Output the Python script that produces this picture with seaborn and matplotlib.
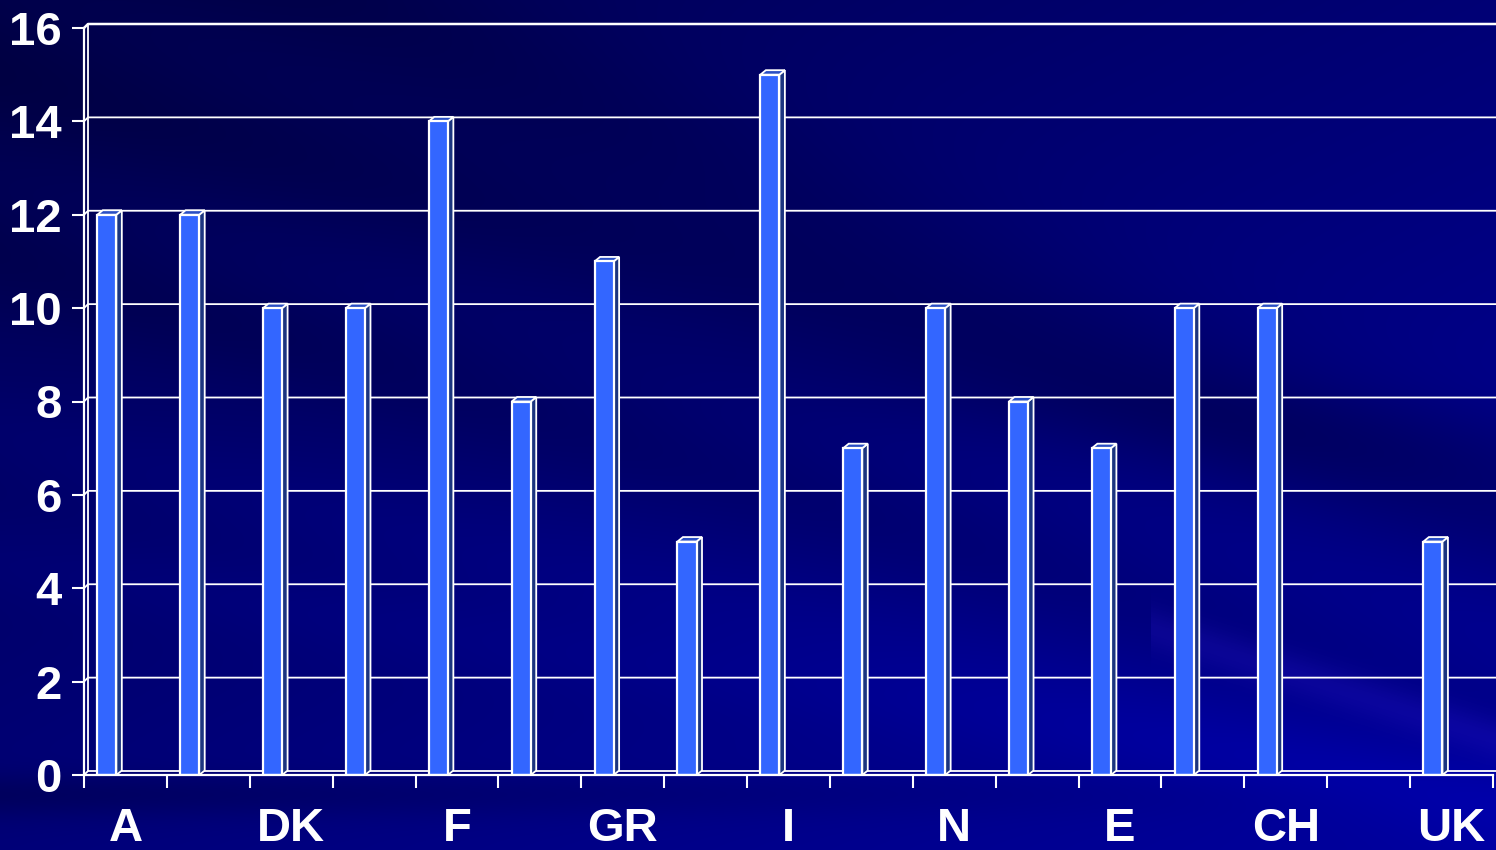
import numpy as np
import pandas as pd
import matplotlib
matplotlib.use("Agg")
import matplotlib.pyplot as plt
from matplotlib.patches import Polygon
import seaborn as sns

# Country slots along the x axis (every other one carries a label)
slots = list(range(17))
values = [12, 12, 10, 10, 14, 8, 11, 5, 15, 7, 10, 8, 7, 10, 10, 0, 5]
label_slots = [0, 2, 4, 6, 8, 10, 12, 14, 16]
labels = ["A", "DK", "F", "GR", "I", "N", "E", "CH", "UK"]
y_ticks = [0, 2, 4, 6, 8, 10, 12, 14, 16]

FRONT = "#3366ff"
SIDE = "#1c3580"
TOP = "#2a4fc4"
W, H = 1496, 850

sns.set_theme(style="white")
plt.rcParams["font.family"] = ["Liberation Sans", "DejaVu Sans"]
plt.rcParams["font.weight"] = "bold"

fig = plt.figure(figsize=(W / 100, H / 100), dpi=100)

# ---- slide-style background: navy gradient with soft diagonal streaks ----
bg = fig.add_axes([0, 0, 1, 1])
bg.set_axis_off()
yy, xx = np.mgrid[0:H, 0:W].astype(float)
xn, yn = xx / W, yy / H
blue = 0.31 + 0.15 * xn + 0.16 * yn


def band(offset, slope, width, amp):
    d = yy - (slope * xx + offset)
    return amp * np.exp(-(d / width) ** 2)


blue += band(80, 0.28, 70, -0.06)
blue += band(260, 0.30, 60, -0.05)
blue += band(430, 0.25, 50, 0.03)
blue += band(-150, 0.45, 90, -0.05)
blue += band(560, 0.16, 40, 0.03)
blue += band(300, 0.10, 45, -0.03) * xn
blue += band(795, 0.0, 22, -0.09) * (1 - xn)
light = band(260, 0.32, 22, 0.07) * (xx > 1150)
img = np.zeros((H, W, 3))
img[..., 0] = light * 0.6
img[..., 1] = light * 0.3
img[..., 2] = np.clip(blue + light, 0, 1)
bg.imshow(img, extent=[0, 1, 0, 1], aspect="auto", origin="upper")
bg.set_xlim(0, 1)
bg.set_ylim(0, 1)

# ---- chart area ----
x_lo, x_hi = -0.275, 16.725
ax = fig.add_axes([84 / W, (H - 775) / H, (1493 - 84) / W, (775 - 28) / H])
ax.set_facecolor("none")

df = pd.DataFrame({"slot": slots, "value": values})
sns.barplot(data=df, x="slot", y="value", native_scale=True, width=0.23,
            color=FRONT, saturation=1, edgecolor="white", linewidth=1.6,
            ax=ax, zorder=4)
ax.set_xlim(x_lo, x_hi)
ax.set_ylim(0, 16)

# pixel -> data conversion for the 3-D depth offsets
px_x = (1493 - 84) / (x_hi - x_lo)
px_y = (775 - 28) / 16.0
wall_dx, wall_dy = 4 / px_x, 4 / px_y
bar_dx, bar_dy = 5.5 / px_x, 4.5 / px_y

# back wall gridlines with their short diagonal to the front axis
x_end = x_lo + (W - 84 + 10) / px_x
for v in y_ticks:
    ax.plot([x_lo, x_lo + wall_dx, x_end], [v, v + wall_dy, v + wall_dy],
            color="white", lw=1.8 if v == 16 else 1.3, clip_on=False, zorder=1,
            solid_capstyle="butt")
ax.plot([x_lo + wall_dx, x_lo + wall_dx], [wall_dy, 16 + wall_dy],
        color="white", lw=1.3, clip_on=False, zorder=1)

# side and top faces of each column
for patch in ax.patches:
    v = patch.get_height()
    if v <= 0:
        continue
    xl = patch.get_x()
    xr = xl + patch.get_width()
    side = Polygon([(xr, 0), (xr + bar_dx, bar_dy), (xr + bar_dx, v + bar_dy), (xr, v)],
                   closed=True, facecolor=SIDE, edgecolor="white", lw=1.3, zorder=3.5)
    top = Polygon([(xl, v), (xl + bar_dx, v + bar_dy), (xr + bar_dx, v + bar_dy), (xr, v)],
                  closed=True, facecolor=TOP, edgecolor="white", lw=1.3, zorder=3.5)
    ax.add_patch(side)
    ax.add_patch(top)

# spines: only the front left edge and the floor edge
for name, sp in ax.spines.items():
    sp.set_visible(name in ("left", "bottom"))
    sp.set_color("white")
    sp.set_linewidth(1.6)
    sp.set_zorder(5)

ax.set_yticks(y_ticks)
ax.set_yticklabels([str(t) for t in y_ticks])
ax.set_xticks([i + x_lo for i in range(18)])
ax.set_xticklabels([])
ax.set_xticks([s + 0.225 for s in label_slots], minor=True)
ax.set_xticklabels(labels, minor=True)
ax.tick_params(axis="y", which="major", direction="out", length=9, width=1.5,
               color="white", labelcolor="white", labelsize=34, pad=7, left=True)
ax.tick_params(axis="x", which="major", direction="out", length=9.5, width=1.5,
               color="white", bottom=True)
ax.tick_params(axis="x", which="minor", length=0, labelcolor="white",
               labelsize=34, pad=23, bottom=True)
for t in ax.get_xticklabels(minor=True) + ax.get_yticklabels():
    t.set_fontweight("bold")
ax.set_xlabel("")
ax.set_ylabel("")
ax.grid(False)

fig.savefig("out.png", dpi=100)
